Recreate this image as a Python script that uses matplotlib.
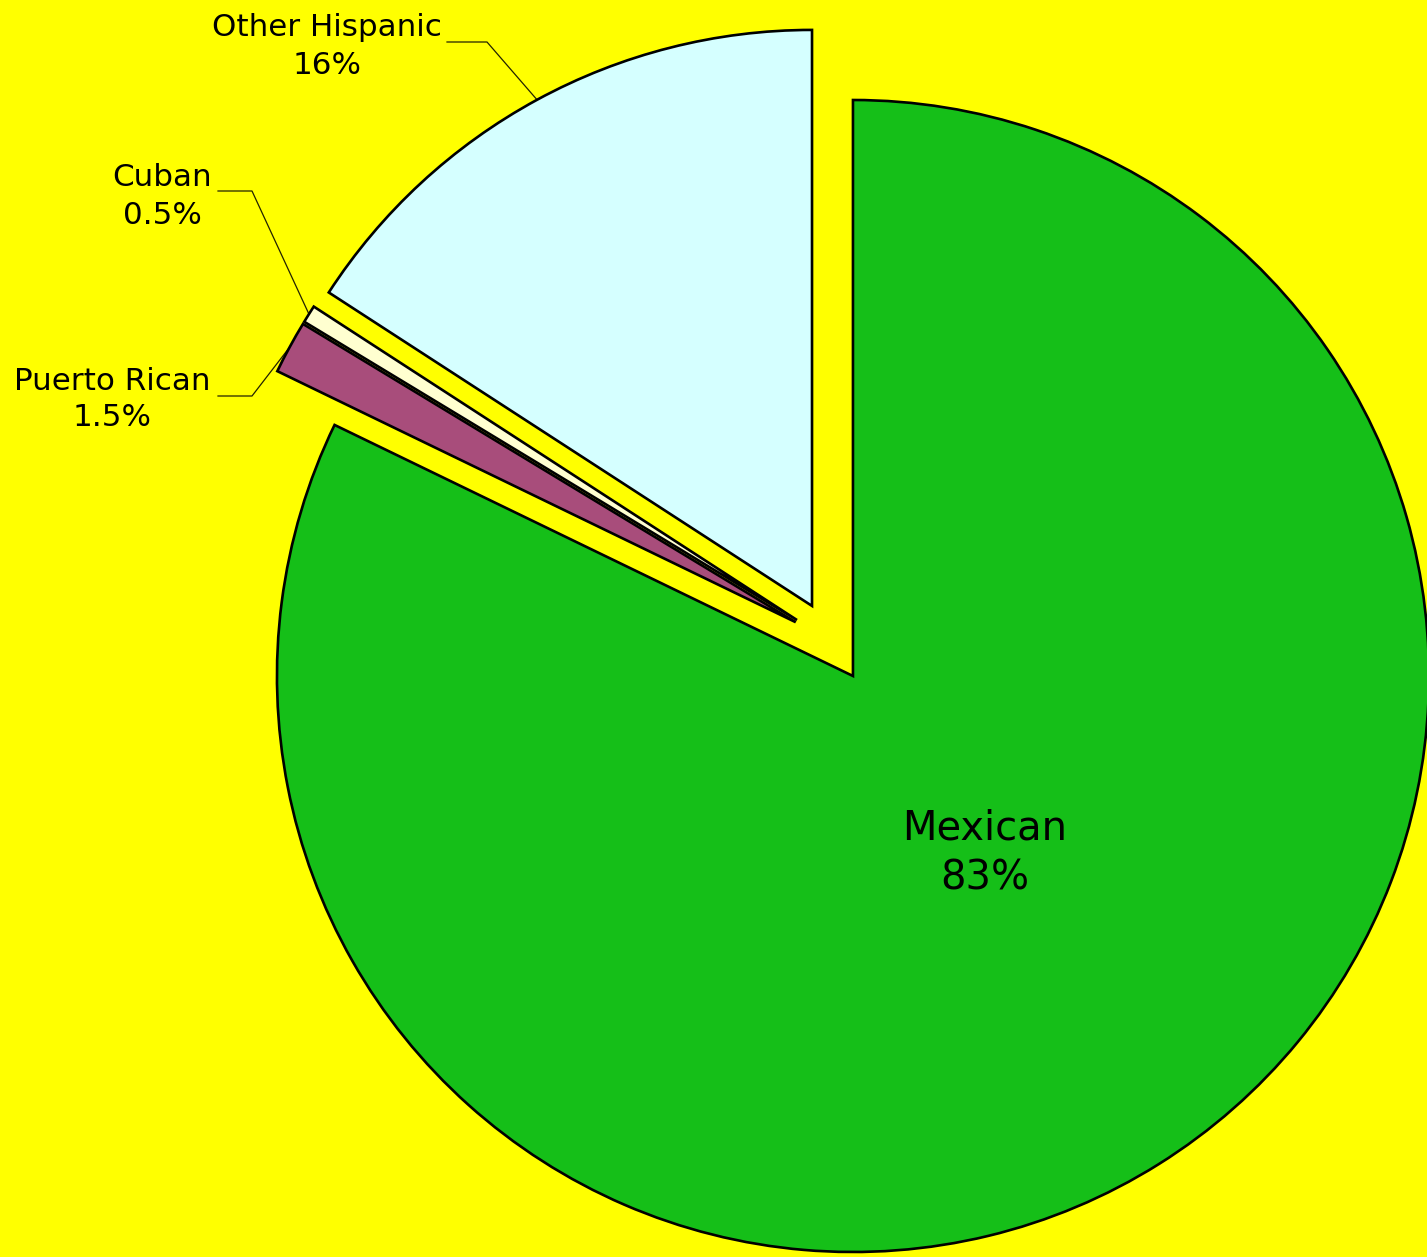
import numpy as np
import matplotlib
matplotlib.use("Agg")
import matplotlib.pyplot as plt

# ---- data ----
categories = ["Mexican", "Puerto Rican", "Cuban", "Other Hispanic"]
values = [83, 1.5, 0.5, 16]
pct_labels = ["83%", "1.5%", "0.5%", "16%"]
colors = ["#15BF18", "#A84D7B", "#FFFFD0", "#D5FFFF"]

W, H = 1427, 1257
fig = plt.figure(figsize=(W / 100, H / 100), dpi=100, facecolor="#FFFF00")
ax = fig.add_axes([0, 0, 1, 1])
ax.set_facecolor("#FFFF00")

center = (831.4, H - 641.6)
radius = 576
# explode offsets (pie uses data units for explode)
explode = [40.6] * len(values)

wedges, _ = ax.pie(values, colors=colors, startangle=90, counterclock=False,
                   center=center, radius=radius, explode=explode,
                   wedgeprops=dict(edgecolor="black", linewidth=1.9),
                   frame=True)
ax.set_xlim(0, W)
ax.set_ylim(0, H)
ax.set_aspect("equal")
ax.axis("off")

fs_small = 22.3
fs_big = 28.8

# Mexican label inside
ax.text(985, H - 828, categories[0], ha="center", va="center", fontsize=fs_big, color="black")
ax.text(985, H - 878, pct_labels[0], ha="center", va="center", fontsize=fs_big, color="black")

# outside labels with leader lines
# (text center x, first line y, second line y, horizontal segment start x, end x, y)
label_pos = {
    3: (327, 28, 66, 447, 487, 42),
    2: (162, 178, 215, 218, 252, 191),
    1: (112, 381, 417, 218, 252, 396),
}
for i, (tx, y1, y2, hx0, hx1, hy) in label_pos.items():
    w = wedges[i]
    mid = np.deg2rad((w.theta1 + w.theta2) / 2)
    cx, cy = w.center
    ax_pt = (cx + w.r * np.cos(mid), cy + w.r * np.sin(mid))
    ax.text(tx, H - y1, categories[i], ha="center", va="center", fontsize=fs_small, color="black")
    ax.text(tx, H - y2, pct_labels[i], ha="center", va="center", fontsize=fs_small, color="black")
    ax.plot([hx0, hx1, ax_pt[0]], [H - hy, H - hy, ax_pt[1]], color="#222200", linewidth=0.9,
            zorder=0.5)

fig.savefig("out.png", dpi=100, facecolor=fig.get_facecolor())
